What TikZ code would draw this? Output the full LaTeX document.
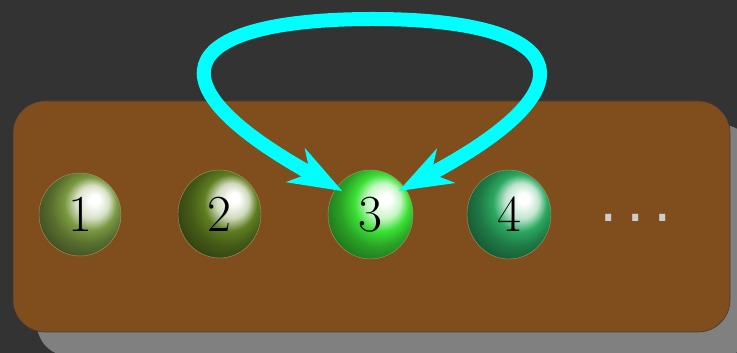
\documentclass[tikz,border=0pt]{standalone}
\usepackage{fontspec}
\newfontfamily\dejavu{DejaVu Sans}
\usetikzlibrary{shapes.geometric,arrows.meta,shadows,calc}
\definecolor{bg}{HTML}{333333}
\definecolor{panelbrown}{RGB}{128,77,28}
\definecolor{panelrim}{RGB}{60,60,60}
\definecolor{shadowgray}{RGB}{128,128,128}
\definecolor{ballrim}{RGB}{170,150,110}
\definecolor{ballone}{RGB}{122,152,64}
\definecolor{balltwo}{RGB}{95,126,32}
\definecolor{ballthree}{RGB}{58,225,52}
\definecolor{ballfour}{RGB}{42,168,96}
\definecolor{dotgray}{RGB}{205,205,205}
\definecolor{loopcyan}{RGB}{0,255,255}
\makeatletter
\pgfdeclareradialshading[tikz@ball]{glossy}{\pgfqpoint{9.5bp}{9.5bp}}{%
  color(0bp)=(white); color(3bp)=(white); color(10bp)=(tikz@ball!30!white);
  color(16bp)=(tikz@ball); color(23bp)=(tikz@ball!72!black); color(34bp)=(tikz@ball!45!black);
  color(50bp)=(tikz@ball!45!black)}
\makeatother
\begin{document}
\begin{tikzpicture}[x=1pt,y=1pt,
  ballnode/.style={ellipse, draw=ballrim, line width=0.4pt, inner sep=0pt,
    font=\fontsize{52}{52}\selectfont},
  loopline/.style={draw=loopcyan, line width=14pt,
    arrows={Stealth[length=53pt,width=38pt,inset=16pt]-Stealth[length=53pt,width=38pt,inset=16pt]},
    shorten <=-7pt, shorten >=-7pt}]
\fill[bg] (0,0) rectangle (737,353);
\useasboundingbox (0,0) rectangle (737,353);
\node[draw=panelrim, line width=0.6pt, fill=panelbrown, rounded corners=32pt,
  minimum width=717pt, minimum height=231pt, inner sep=0pt,
  drop shadow={shadow xshift=24pt, shadow yshift=-24pt, fill=shadowgray, opacity=1}]
  (panel) at (371.5,136.5) {};
\node[ballnode, ball color=ballone, shading=glossy, minimum width=82pt, minimum height=83pt] (b1) at (80,138.5) {1};
\node[ballnode, ball color=balltwo, shading=glossy, minimum width=83pt, minimum height=88pt] (b2) at (219.5,139) {2};
\node[ballnode, ball color=ballthree, shading=glossy, minimum width=85pt, minimum height=89pt] (b3) at (370.5,138.5) {3};
\node[ballnode, ball color=ballfour, shading=glossy, minimum width=84pt, minimum height=89pt] (b4) at (509,138.5) {4};
\node[text=dotgray, font=\dejavu\fontsize{58}{58}\selectfont, inner sep=0pt] (dots) at (636,135) {.\kern8.6pt.\kern8.6pt.};
\coordinate (looptop) at (373,334);
\draw[loopline] (b3.142) .. controls ($(b3.142)+(151:230)$) and (188,334) .. (looptop)
  .. controls (558,334) and ($(b3.38)+(28:230)$) .. (b3.38);
\end{tikzpicture}
\end{document}
